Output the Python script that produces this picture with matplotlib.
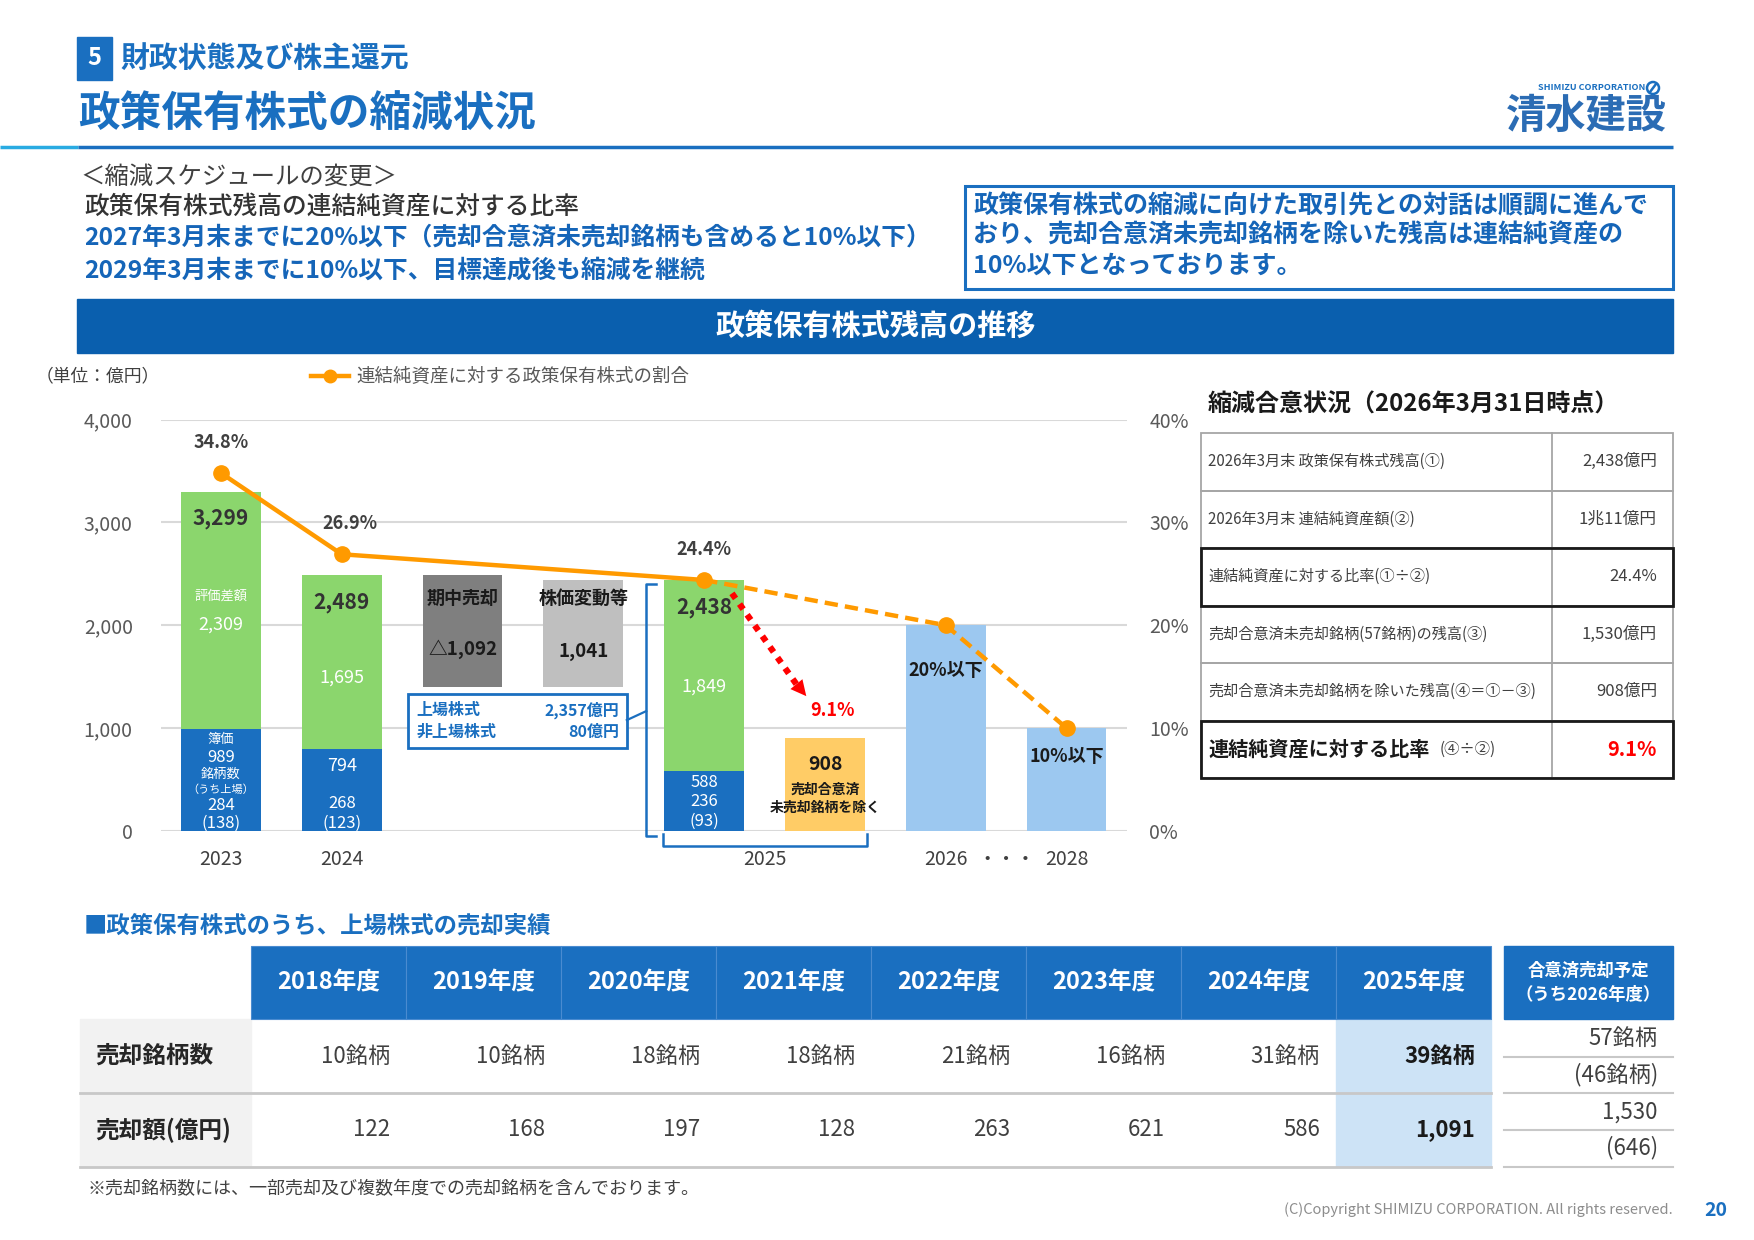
import matplotlib.pyplot as plt
from matplotlib.patches import Rectangle, Circle

plt.rcParams['font.family'] = ['Noto Sans CJK JP', 'DejaVu Sans']

W, H = 1754, 1240
BLUE = '#1a6fc0'
GREEN = '#8bd66d'
ORANGE = '#ff9a00'
TXT = '#404040'

# ---- chart data (億円) ----
bar_years = ['2023', '2024', '2025']
book_value = [989, 794, 588]
valuation_diff = [2309, 1695, 1849]
balance = [3299, 2489, 2438]
brand_count = [284, 268, 236]
listed_count = [138, 123, 93]
sold_2025 = 1092
price_change_2025 = 1041
excl_agreed = 908
listed_amount = 2357
unlisted_amount = 80
ratio_actual = [34.8, 26.9, 24.4]
ratio_target = [20, 10]
ratio_excl = 9.1

# ---- status table ----
status_items = ['2026年3月末 政策保有株式残高(①)', '2026年3月末 連結純資産額(②)',
                '連結純資産に対する比率(①÷②)', '売却合意済未売却銘柄(57銘柄)の残高(③)',
                '売却合意済未売却銘柄を除いた残高(④＝①－③)', '連結純資産に対する比率']
status_values = ['2,438億円', '1兆11億円', '24.4%', '1,530億円', '908億円', '9.1%']

# ---- sales table ----
fiscal_years = ['2018年度', '2019年度', '2020年度', '2021年度', '2022年度', '2023年度', '2024年度', '2025年度']
sold_brands = [10, 10, 18, 18, 21, 16, 31, 39]
sold_amount = [122, 168, 197, 128, 263, 621, 586, 1091]
plan_brands = [57, 46]
plan_amount = [1530, 646]

fig = plt.figure(figsize=(W / 100, H / 100), dpi=100)
bg = fig.add_axes([0, 0, 1, 1])
bg.set_xlim(0, W)
bg.set_ylim(H, 0)
bg.axis('off')
bg.set_zorder(0)

# ---- header ----
bg.add_patch(Rectangle((77, 37), 35, 43, color=BLUE))
bg.text(94.5, 58, '5', color='white', fontsize=17, fontweight='bold', ha='center', va='center')
bg.text(120, 58, '財政状態及び株主還元', color=BLUE, fontsize=20.8, fontweight='bold', va='center')
bg.text(78, 114, '政策保有株式の縮減状況', color=BLUE, fontsize=30, fontweight='bold', va='center')
bg.plot([0, 78], [147, 147], color='#29abe2', lw=2.5, solid_capstyle='butt')
bg.plot([78, 1673], [147, 147], color=BLUE, lw=2.5, solid_capstyle='butt')
bg.text(1592, 88, 'SHIMIZU CORPORATION', color=BLUE, fontsize=6.5, fontweight='bold', ha='center', va='center')
bg.add_patch(Circle((1653, 88), 6, fill=False, ec=BLUE, lw=1.8))
bg.plot([1650, 1656], [92, 84], color=BLUE, lw=1.8)
bg.text(1586, 116, '清水建設', color='#2b6cb4', fontsize=29, fontweight='bold', ha='center', va='center')

# ---- schedule text ----
bg.text(80, 177, '＜縮減スケジュールの変更＞', color=TXT, fontsize=17.6, va='center')
bg.text(84, 207, '政策保有株式残高の連結純資産に対する比率', color='#333333', fontsize=17.8, fontweight='medium', va='center')
bg.text(84, 238, '2027年3月末までに20%以下（売却合意済未売却銘柄も含めると10%以下）', color='#1565b8',
        fontsize=17.8, fontweight='bold', va='center')
bg.text(84, 271, '2029年3月末までに10%以下、目標達成後も縮減を継続', color='#1565b8',
        fontsize=17.8, fontweight='bold', va='center')
bg.add_patch(Rectangle((965, 186), 708, 103, fill=False, ec=BLUE, lw=2.2))
for i, line in enumerate(['政策保有株式の縮減に向けた取引先との対話は順調に進んで',
                          'おり、売却合意済未売却銘柄を除いた残高は連結純資産の',
                          '10%以下となっております。']):
    bg.text(973, 206 + i * 30, line, color='#1565b8', fontsize=18, fontweight='bold', va='center')

bg.add_patch(Rectangle((77, 299), 1596, 54, color='#0a5fae'))
bg.text(876, 326, '政策保有株式残高の推移', color='white', fontsize=21, fontweight='bold', ha='center', va='center')

# ---- legend / unit ----
bg.text(36, 376, '（単位：億円）', color=TXT, fontsize=12.8, va='center')
bg.plot([311, 349], [376, 376], color=ORANGE, lw=3.2)
bg.plot([330], [376], 'o', color=ORANGE, ms=9)
bg.text(356, 376, '連結純資産に対する政策保有株式の割合', color='#595959', fontsize=13.3, va='center')

# ---- chart ----
ax = fig.add_axes([160.5 / W, 1 - 831 / H, (1127 - 160.5) / W, (831 - 419.5) / H])
ax.set_zorder(1)
ax.set_facecolor('none')
ax2 = ax.twinx()
ax2.set_zorder(2)
ax2.patch.set_visible(False)

bw = 0.66
pos_actual = [0, 1, 4]
pos_target = [6, 7]
top_part = [t - b for t, b in zip(balance, book_value)]
ax.bar(pos_actual, book_value, width=bw, color=BLUE)
ax.bar(pos_actual, top_part, bottom=book_value, width=bw, color=GREEN)
after_sale = balance[1] - sold_2025
ax.bar(2, sold_2025, bottom=after_sale, width=bw, color='#7f7f7f')
ax.bar(3, price_change_2025, bottom=after_sale, width=bw, color='#bfbfbf')
ax.bar(5, excl_agreed, width=bw, color='#ffcc66')
ax2.bar(pos_target, ratio_target, width=bw, color='#9cc8f0')

ax.set_xlim(-0.5, 7.5)
ax.set_ylim(0, 4000)
ax2.set_ylim(0, 40)
ax.set_yticks([0, 1000, 2000, 3000, 4000])
ax.set_yticklabels(['0', '1,000', '2,000', '3,000', '4,000'])
ax2.set_yticks([0, 10, 20, 30, 40])
ax2.set_yticklabels(['0%', '10%', '20%', '30%', '40%'])
ax.grid(axis='y', color='#d9d9d9', lw=1.5)
ax.set_axisbelow(True)
ax.set_xticks([0, 1, 4.5, 6, 6.5, 7])
ax.set_xticklabels(['2023', '2024', '2025', '2026', '・・・', '2028'])
ax.tick_params(axis='y', length=0, pad=20, labelsize=14, labelcolor='#595959')
ax.tick_params(axis='x', length=0, pad=13, labelsize=14, labelcolor=TXT)
ax2.tick_params(axis='y', length=0, pad=16, labelsize=14, labelcolor='#595959')
for a in (ax, ax2):
    for s in a.spines.values():
        s.set_visible(False)

# ratio line
ax2.plot(pos_actual, ratio_actual, '-o', color=ORANGE, lw=3.2, ms=11, zorder=5)
ax2.plot([4] + pos_target, [ratio_actual[-1]] + ratio_target, '--o', color=ORANGE, lw=3.2, ms=11,
         markevery=[1, 2], dashes=(3, 1.6), zorder=5)
for x, r in zip([0, 1.07, 4], ratio_actual):
    ax2.text(x, r + 3.0, f'{r}%', ha='center', va='center', fontsize=13, fontweight='bold', color=TXT)
ax2.text(6, ratio_target[0] - 4.4, f'{ratio_target[0]}%以下', ha='center', va='center', fontsize=13,
         fontweight='bold', color='#1a1a1a', zorder=6)
ax2.text(7, ratio_target[1] - 2.8, f'{ratio_target[1]}%以下', ha='center', va='center', fontsize=13,
         fontweight='bold', color='#1a1a1a', zorder=6)

# bar labels
for x, tot, b, d in zip(pos_actual, balance, book_value, valuation_diff):
    ax.text(x, tot - 265, f'{tot:,}', ha='center', va='center', fontsize=15, fontweight='bold', color='#333333')
ax.text(0, 2282, '評価差額', ha='center', va='center', fontsize=9.5, color='white')
ax.text(0, 2010, f'{valuation_diff[0]:,}', ha='center', va='center', fontsize=13, color='white')
ax.text(1, 1495, f'{valuation_diff[1]:,}', ha='center', va='center', fontsize=13, color='white')
ax.text(4, 1408, f'{valuation_diff[2]:,}', ha='center', va='center', fontsize=13, color='white')
ax.text(0, 893, '簿価', ha='center', va='center', fontsize=9.5, color='white')
ax.text(0, 718, f'{book_value[0]:,}', ha='center', va='center', fontsize=12, color='white')
ax.text(0, 553, '銘柄数', ha='center', va='center', fontsize=9.5, color='white')
ax.text(0, 398, '（うち上場）', ha='center', va='center', fontsize=8, color='white')
ax.text(0, 252, f'{brand_count[0]}', ha='center', va='center', fontsize=12, color='white')
ax.text(0, 78, f'({listed_count[0]})', ha='center', va='center', fontsize=12, color='white')
ax.text(1, 631, f'{book_value[1]}', ha='center', va='center', fontsize=13, color='white')
ax.text(1, 272, f'{brand_count[1]}', ha='center', va='center', fontsize=12, color='white')
ax.text(1, 78, f'({listed_count[1]})', ha='center', va='center', fontsize=12, color='white')
ax.text(4, 476, f'{book_value[2]}', ha='center', va='center', fontsize=12, color='white')
ax.text(4, 282, f'{brand_count[2]}', ha='center', va='center', fontsize=12, color='white')
ax.text(4, 97, f'({listed_count[2]})', ha='center', va='center', fontsize=12, color='white')
ax.text(2, 2262, '期中売却', ha='center', va='center', fontsize=13, fontweight='bold', color='#1a1a1a')
ax.text(2, 1767, f'△{sold_2025:,}', ha='center', va='center', fontsize=13.5, fontweight='bold', color='#1a1a1a')
ax.text(3, 2262, '株価変動等', ha='center', va='center', fontsize=13, fontweight='bold', color='#1a1a1a')
ax.text(3, 1748, f'{price_change_2025:,}', ha='center', va='center', fontsize=13.5, fontweight='bold', color='#1a1a1a')
ax.text(5, 650, f'{excl_agreed}', ha='center', va='center', fontsize=14, fontweight='bold', color='#1a1a1a')
ax.text(5, 398, '売却合意済', ha='center', va='center', fontsize=10, fontweight='bold', color='#1a1a1a')
ax.text(5, 223, '未売却銘柄を除く', ha='center', va='center', fontsize=10, fontweight='bold', color='#1a1a1a')

# red arrow to 9.1%
ax.plot([4.23, 4.78], [2310, 1400], ls=(0, (1, 1.1)), lw=4.5, color='red')
ax.annotate('', xy=(4.86, 1290), xytext=(4.79, 1390),
            arrowprops=dict(arrowstyle='-|>', mutation_scale=28, color='red', lw=0))
ax.text(5.06, 1175, f'{ratio_excl}%', ha='center', va='center', fontsize=13, fontweight='bold', color='red')

# callout + brackets
ax.add_patch(Rectangle((1.55, 806), 1.81, 524, fill=True, fc='white', ec=BLUE, lw=2, clip_on=False))
ax.text(1.62, 1175, '上場株式', ha='left', va='center', fontsize=11.5, fontweight='bold', color=BLUE)
ax.text(1.62, 961, '非上場株式', ha='left', va='center', fontsize=11.5, fontweight='bold', color=BLUE)
ax.text(3.30, 1175, f'{listed_amount:,}億円', ha='right', va='center', fontsize=11.5, fontweight='bold', color=BLUE)
ax.text(3.30, 961, f'{unlisted_amount}億円', ha='right', va='center', fontsize=11.5, fontweight='bold', color=BLUE)
ax.plot([3.36, 3.52], [1078, 1165], color=BLUE, lw=1.6, clip_on=False)
ax.plot([3.60, 3.52, 3.52, 3.60], [2398, 2398, -49, -49], color=BLUE, lw=1.8, clip_on=False)
ax.plot([3.66, 3.66, 5.35, 5.35], [-29, -146, -146, -29], color=BLUE, lw=1.8, clip_on=False)

# ---- status table ----
bg.text(1208, 405, '縮減合意状況（2026年3月31日時点）', fontsize=17.3, fontweight='bold', color='#1a1a1a', va='center')
tx0, tx1, split = 1201, 1673, 1552
row_h = (778 - 433) / 6
for i, (item, val) in enumerate(zip(status_items, status_values)):
    y0 = 433 + i * row_h
    bold = i in (2, 5)
    bg.add_patch(Rectangle((tx0, y0), tx1 - tx0, row_h, fill=False, ec='#a6a6a6', lw=1.3))
    bg.plot([split, split], [y0, y0 + row_h], color='#a6a6a6', lw=1.3)
    if i == 5:
        bg.text(1208, y0 + row_h / 2, item, fontsize=14.5, fontweight='bold', color='#1a1a1a', va='center')
        bg.text(1440, y0 + row_h / 2, '(④÷②)', fontsize=11, color=TXT, va='center')
        bg.text(1657, y0 + row_h / 2, val, fontsize=14.5, fontweight='bold', color='#ff0000', ha='right', va='center')
    else:
        bg.text(1208, y0 + row_h / 2, item, fontsize=10.9, color=TXT, va='center')
        bg.text(1657, y0 + row_h / 2, val, fontsize=12, color=TXT, ha='right', va='center')
    if bold:
        bg.add_patch(Rectangle((tx0, y0), tx1 - tx0, row_h, fill=False, ec='#1a1a1a', lw=2, zorder=3))

# ---- sales table ----
bg.text(84, 926, '■政策保有株式のうち、上場株式の売却実績', fontsize=16.8, fontweight='bold', color=BLUE, va='center')
x0, colw = 251, 155
hy0, hy1, r1, r2 = 946, 1019, 1093, 1167
bg.add_patch(Rectangle((80, hy1), x0 - 80, r2 - hy1, color='#f2f2f2'))
bg.add_patch(Rectangle((x0 + 7 * colw, hy1), colw, r2 - hy1, color='#cde3f6'))
for i, fy in enumerate(fiscal_years):
    cx = x0 + i * colw
    bg.add_patch(Rectangle((cx, hy0), colw, hy1 - hy0, fc=BLUE, ec='#4a8bd0', lw=0.8))
    bg.text(cx + colw / 2, (hy0 + hy1) / 2, fy, color='white', fontsize=17, fontweight='bold',
            ha='center', va='center')
    last = i == len(fiscal_years) - 1
    bg.text(cx + colw - 16, (hy1 + r1) / 2, f'{sold_brands[i]}銘柄', fontsize=16,
            fontweight='bold' if last else 'normal', color='#1a1a1a' if last else TXT, ha='right', va='center')
    bg.text(cx + colw - 16, (r1 + r2) / 2, f'{sold_amount[i]:,}', fontsize=16,
            fontweight='bold' if last else 'normal', color='#1a1a1a' if last else TXT, ha='right', va='center')
bg.text(95, (hy1 + r1) / 2, '売却銘柄数', fontsize=17, fontweight='bold', color='#262626', va='center')
bg.text(95, (r1 + r2) / 2, '売却額(億円)', fontsize=17, fontweight='bold', color='#262626', va='center')
for yy in (r1, r2):
    bg.plot([80, x0 + 8 * colw], [yy, yy], color='#c8c8c8', lw=2)

# planned column
bg.add_patch(Rectangle((1504, hy0), 169, hy1 - hy0, color=BLUE))
bg.text(1588, 971, '合意済売却予定', color='white', fontsize=12.5, fontweight='bold', ha='center', va='center')
bg.text(1588, 995, '（うち2026年度）', color='white', fontsize=12.5, fontweight='bold', ha='center', va='center')
plan_texts = [f'{plan_brands[0]}銘柄', f'({plan_brands[1]}銘柄)', f'{plan_amount[0]:,}', f'({plan_amount[1]:,})']
for yc, t in zip([1038, 1075, 1112, 1148], plan_texts):
    bg.text(1658, yc, t, fontsize=16, color=TXT, ha='right', va='center')
for yy in (1057, 1093, 1130, 1167):
    bg.plot([1504, 1673], [yy, yy], color='#c8c8c8', lw=1.5)

# ---- footer ----
bg.text(87, 1189, '※売却銘柄数には、一部売却及び複数年度での売却銘柄を含んでおります。', fontsize=13, color=TXT, va='center')
bg.text(1673, 1210, '(C)Copyright SHIMIZU CORPORATION. All rights reserved.', fontsize=10.5, color='#8c8c8c',
        ha='right', va='center')
bg.text(1716, 1210, '20', fontsize=14, fontweight='bold', color=BLUE, ha='center', va='center')

fig.savefig('out.png', dpi=100)
